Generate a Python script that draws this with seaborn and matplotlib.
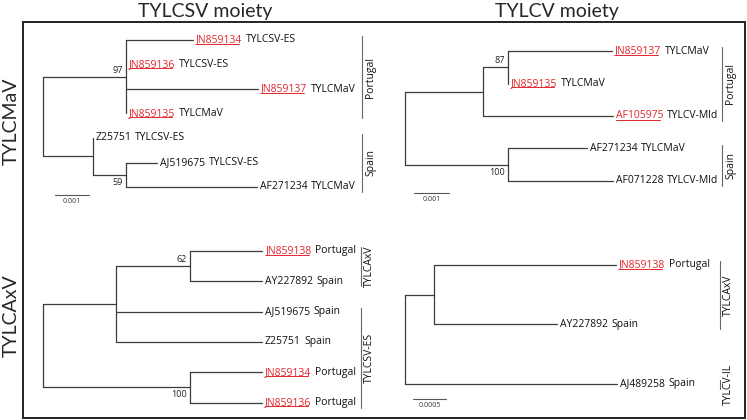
import numpy as np
import pandas as pd
import matplotlib
matplotlib.use('Agg')
import matplotlib.pyplot as plt
import seaborn as sns
from matplotlib.lines import Line2D
from matplotlib.patches import Rectangle
from matplotlib.transforms import IdentityTransform

sns.set_style('white')
plt.rcParams['font.family'] = ['Lato', 'DejaVu Sans']
SMALL = ['Open Sans', 'DejaVu Sans']

W, H = 747, 420
RED = '#e3262d'
LINE = '#3c3c3c'

# isolates from this study (shown red, underlined)
new_isolates = ['JN859134', 'JN859135', 'JN859136', 'JN859137', 'JN859138', 'AF105975']

# trees: nodes in preorder, branch lengths in 0.001 subst/site
# TYLCMaV - TYLCSV moiety
mav_sv_parent = [-1, 0, 1, 1, 1, 1, 0, 6, 6, 8, 8]
mav_sv_length = [0, 2.44, 1.97, 0, 3.88, 0, 1.47, 0, 0.97, 0.91, 3.85]
mav_sv_acc = ['', '', 'JN859134', 'JN859136', 'JN859137', 'JN859135', '', 'Z25751', '', 'AJ519675', 'AF271234']
mav_sv_name = ['', '', 'TYLCSV-ES', 'TYLCSV-ES', 'TYLCMaV', 'TYLCMaV', '', 'TYLCSV-ES', '', 'TYLCSV-ES', 'TYLCMaV']
mav_sv_support = {1: 97, 8: 59}
mav_sv_groups = [('Portugal', 0, 3), ('Spain', 4, 6)]

# TYLCMaV - TYLCV moiety
mav_v_parent = [-1, 0, 1, 2, 2, 1, 0, 6, 6]
mav_v_length = [0, 2.23, 0.71, 2.97, 0, 3.71, 2.94, 2.26, 3.00]
mav_v_acc = ['', '', '', 'JN859137', 'JN859135', 'AF105975', '', 'AF271234', 'AF071228']
mav_v_name = ['', '', '', 'TYLCMaV', 'TYLCMaV', 'TYLCV-Mld', '', 'TYLCMaV', 'TYLCV-Mld']
mav_v_support = {2: 87, 6: 100}
mav_v_groups = [('Portugal', 0, 2), ('Spain', 3, 4)]

# TYLCAxV - TYLCSV moiety
axv_sv_parent = [-1, 0, 1, 2, 2, 1, 1, 0, 7, 7]
axv_sv_length = [0, 2.15, 2.18, 2.12, 2.12, 4.29, 4.29, 4.32, 2.12, 2.12]
axv_sv_acc = ['', '', '', 'JN859138', 'AY227892', 'AJ519675', 'Z25751', '', 'JN859134', 'JN859136']
axv_sv_name = ['', '', '', 'Portugal', 'Spain', 'Spain', 'Spain', '', 'Portugal', 'Portugal']
axv_sv_support = {2: 62, 7: 100}
axv_sv_groups = [('TYLCAxV', 0, 1), ('TYLCSV-ES', 2, 5)]

# TYLCAxV - TYLCV moiety
axv_v_parent = [-1, 0, 1, 1, 0]
axv_v_length = [0, 0.44, 2.76, 1.86, 3.21]
axv_v_acc = ['', '', 'JN859138', 'AY227892', 'AJ489258']
axv_v_name = ['', '', 'Portugal', 'Spain', 'Spain']
axv_v_support = {}
axv_v_groups = [('TYLCAxV', 0, 1), ('TYLCV-IL', 2, 2)]


def layout_tree(parent, length):
    n = len(parent)
    x = np.zeros(n)
    for i in range(1, n):
        x[i] = x[parent[i]] + length[i]
    children = [[j for j in range(n) if parent[j] == i] for i in range(n)]
    y = np.zeros(n)
    k = 0
    for i in range(n):
        if not children[i]:
            y[i] = k
            k += 1
    for i in reversed(range(n)):
        if children[i]:
            y[i] = (y[children[i][0]] + y[children[i][-1]]) / 2
    return x, y, children


fig = plt.figure(figsize=(W / 100, H / 100), dpi=100)
underlined = []


def draw_panel(parent, length, acc, name, support, groups, rect, root_px, unit_px,
               leaf0_px, step_px, bracket_px, scale=None):
    l, t, w, h = rect
    ax = fig.add_axes([l / W, 1 - (t + h) / H, w / W, h / H])
    x, y, children = layout_tree(parent, length)

    rows = []
    seg = 0
    for i in range(1, len(parent)):
        if length[i] > 0:
            rows += [(seg, x[parent[i]], y[i]), (seg, x[i], y[i])]
            seg += 1
    for i in range(len(parent)):
        if children[i]:
            rows += [(seg, x[i], y[children[i][0]]), (seg, x[i], y[children[i][-1]])]
            seg += 1
    segs = pd.DataFrame(rows, columns=['seg', 'x', 'y'])
    sns.lineplot(data=segs, x='x', y='y', units='seg', estimator=None, sort=False,
                 color=LINE, lw=0.9, ax=ax, legend=False)

    ax.set_xlim((l - root_px) / unit_px, (l + w - root_px) / unit_px)
    ax.set_ylim((t + h - leaf0_px) / step_px, (t - leaf0_px) / step_px)
    ax.axis('off')

    def px2x(px):
        return (px - root_px) / unit_px

    def px2y(py):
        return (py - leaf0_px) / step_px

    # leaf labels
    for i in range(len(parent)):
        if children[i]:
            continue
        new = acc[i] in new_isolates
        t1 = ax.annotate(acc[i], (x[i], y[i]), xytext=(3, 0), textcoords='offset pixels',
                         ha='left', va='center', fontsize=7.5, family=SMALL,
                         color=RED if new else '#111111')
        ax.annotate(name[i], xy=(1, 0.5), xycoords=t1, xytext=(3.5, 0),
                    textcoords='offset pixels', ha='left', va='center', fontsize=7.5,
                    family=SMALL, color='#111111')
        if new:
            underlined.append(t1)

    # bootstrap values
    for i, s in support.items():
        p = parent[i]
        below = children[p][-1] == i
        ax.annotate(str(s), (x[i], y[i]), xytext=(-3, -3 if below else 2),
                    textcoords='offset pixels', ha='right',
                    va='top' if below else 'bottom', fontsize=6.5, family=SMALL,
                    color='#222222')

    # clade brackets
    leaves = [i for i in range(len(parent)) if not children[i]]
    for g, a, b in groups:
        ya, yb = y[leaves[a]], y[leaves[b]]
        ax.plot([px2x(bracket_px)] * 2, [ya - 4 / step_px, yb + 5 / step_px],
                color='#666666', lw=0.8, clip_on=False)
        ax.annotate(g, (px2x(bracket_px), (ya + yb) / 2 + 0.5 / step_px), xytext=(3, 0),
                    textcoords='offset pixels', rotation=90, ha='left', va='center',
                    fontsize=7.5, family=SMALL, color='#111111')

    # scale bar
    if scale is not None:
        sx, sy, sl, lab = scale
        ax.plot([px2x(sx), px2x(sx) + sl], [px2y(sy)] * 2, color='#555555', lw=0.8,
                clip_on=False)
        ax.annotate(lab, (px2x(sx) + sl / 2, px2y(sy)), xytext=(0, -3),
                    textcoords='offset pixels', ha='center', va='top', fontsize=5,
                    family=SMALL, color='#333333')
    return ax


draw_panel(mav_sv_parent, mav_sv_length, mav_sv_acc, mav_sv_name, mav_sv_support,
           mav_sv_groups, (24, 23, 360, 190), 43, 34, 40, 24.5, 362,
           scale=(55, 195, 1.0, '0.001'))
draw_panel(mav_v_parent, mav_v_length, mav_v_acc, mav_v_name, mav_v_support,
           mav_v_groups, (384, 23, 360, 190), 405, 35, 51, 32.5, 722,
           scale=(414, 193, 1.0, '0.001'))
draw_panel(axv_sv_parent, axv_sv_length, axv_sv_acc, axv_sv_name, axv_sv_support,
           axv_sv_groups, (24, 213, 360, 204), 43, 34, 251, 30.3, 361)
draw_panel(axv_v_parent, axv_v_length, axv_v_acc, axv_v_name, axv_v_support,
           axv_v_groups, (384, 213, 360, 204), 405, 66, 265, 59.3, 720,
           scale=(413, 399, 0.5, '0.0005'))

# frame, titles and row labels
fig.add_artist(Rectangle((23 / W, 2 / H), 722 / W, 396 / H, transform=fig.transFigure,
                         fill=False, edgecolor='#222222', lw=1.4))
fig.text(205 / W, 1 - 16.5 / H, 'TYLCSV moiety', ha='center', va='baseline', fontsize=14)
fig.text(557 / W, 1 - 16.5 / H, 'TYLCV moiety', ha='center', va='baseline', fontsize=14)
fig.text(11 / W, 1 - 121 / H, 'TYLCMaV', rotation=90, ha='center', va='center', fontsize=14)
fig.text(11 / W, 1 - 316 / H, 'TYLCAxV', rotation=90, ha='center', va='center', fontsize=14)

# underline accessions from this study
fig.canvas.draw()
for t1 in underlined:
    bb = t1.get_window_extent()
    fig.add_artist(Line2D([bb.x0 + 0.5, bb.x1 - 3], [bb.y0 + 2] * 2,
                          transform=IdentityTransform(), color=RED, lw=0.7))

fig.savefig('out.png', dpi=100)
